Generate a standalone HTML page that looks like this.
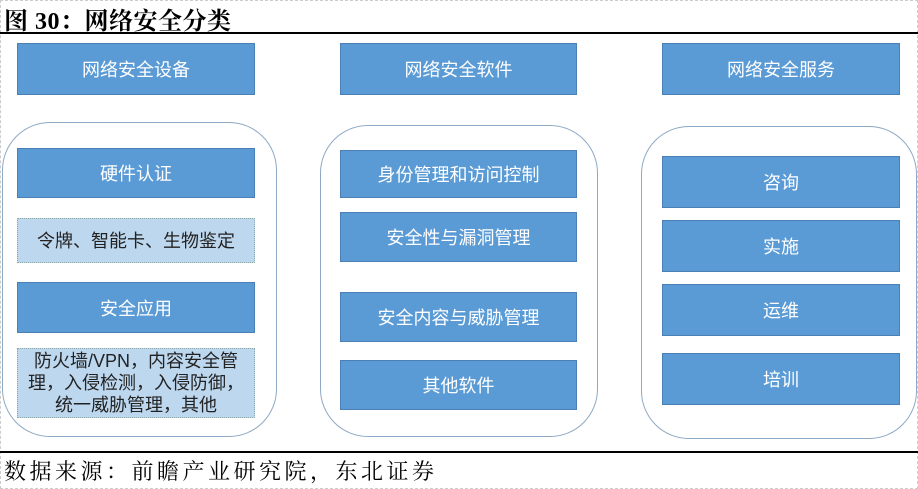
<!DOCTYPE html><html><head><meta charset="utf-8"><style>
body{margin:0;width:918px;height:489px;background:#fff;position:relative;overflow:hidden;font-family:"Liberation Sans","Noto Sans CJK SC",sans-serif}
.a{position:absolute;box-sizing:border-box}
.b{background:#5b9bd5;border:1px solid #4a80b4;color:#fff;font-size:18px;display:flex;align-items:center;justify-content:center;text-align:center}
.l{background:#bdd7ee;border:1px dotted #8aa;color:#222;font-size:18px;display:flex;align-items:center;justify-content:center;text-align:center;line-height:22px}
.c{border:1.5px solid #8ea9c5;border-radius:48px}
</style></head><body>
<div class="a" style="left:0;top:0;width:918px;height:489px;border:1px dashed #ccc"></div>
<div class="a" style="left:4px;top:1px;font:bold 24px 'Liberation Serif','Noto Serif CJK SC',serif;letter-spacing:0.5px">图 30：网络安全分类</div>
<div class="a" style="left:0;top:32px;width:918px;height:2px;background:#000"></div>
<div class="a b" style="left:17px;top:43px;width:238px;height:52px">网络安全设备</div>
<div class="a b" style="left:340px;top:43px;width:237px;height:52px">网络安全软件</div>
<div class="a b" style="left:662px;top:43px;width:238px;height:52px">网络安全服务</div>
<div class="a c" style="left:2px;top:122px;width:275px;height:315px"></div>
<div class="a c" style="left:320px;top:125px;width:278px;height:312px"></div>
<div class="a c" style="left:641px;top:126px;width:276px;height:313px"></div>
<div class="a b" style="left:17px;top:148px;width:238px;height:50px">硬件认证</div>
<div class="a l" style="left:17px;top:218px;width:238px;height:45px">令牌、智能卡、生物鉴定</div>
<div class="a b" style="left:17px;top:282px;width:238px;height:51px">安全应用</div>
<div class="a l" style="left:17px;top:348px;width:238px;height:70px">防火墙/VPN，内容安全管<br>理，入侵检测，入侵防御，<br>统一威胁管理，其他</div>
<div class="a b" style="left:340px;top:150px;width:237px;height:48px">身份管理和访问控制</div>
<div class="a b" style="left:340px;top:212px;width:237px;height:50px">安全性与漏洞管理</div>
<div class="a b" style="left:340px;top:292px;width:237px;height:50px">安全内容与威胁管理</div>
<div class="a b" style="left:340px;top:360px;width:237px;height:50px">其他软件</div>
<div class="a b" style="left:662px;top:156px;width:238px;height:52px">咨询</div>
<div class="a b" style="left:662px;top:220px;width:238px;height:52px">实施</div>
<div class="a b" style="left:662px;top:284px;width:238px;height:52px">运维</div>
<div class="a b" style="left:662px;top:353px;width:238px;height:52px">培训</div>
<div class="a" style="left:0;top:451px;width:918px;height:2px;background:#000"></div>
<div class="a" style="left:4px;top:455px;font:22px 'Liberation Serif','Noto Serif CJK SC',serif;letter-spacing:3.5px">数据来源：前瞻产业研究院，东北证券</div>
</body></html>
